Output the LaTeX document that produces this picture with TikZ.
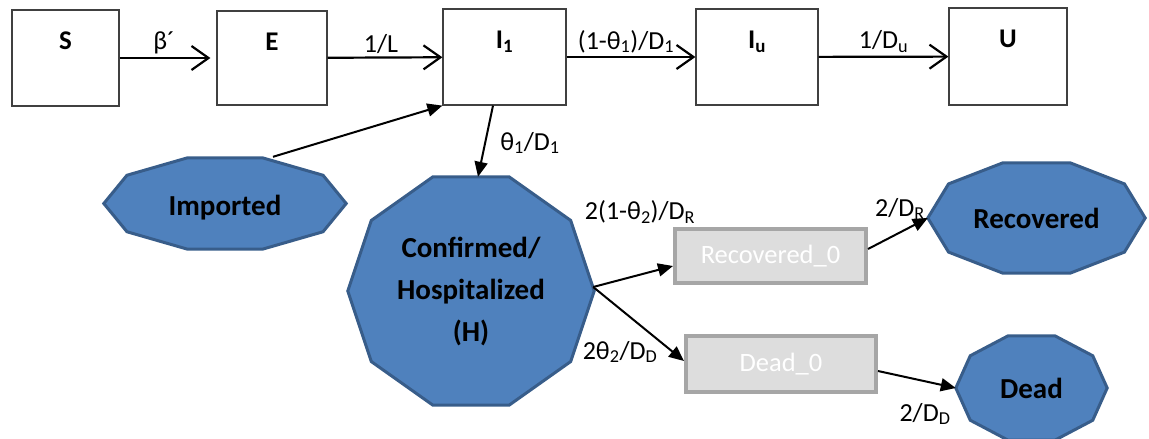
\documentclass[tikz,border=0pt]{standalone}
\usepackage{fontspec}
\setmainfont{Carlito}
\usetikzlibrary{arrows.meta,calc,backgrounds}
\definecolor{blfill}{HTML}{4F81BD}
\definecolor{blline}{HTML}{385D8A}
\definecolor{gyfill}{HTML}{DDDDDD}
\definecolor{gyline}{HTML}{A6A6A6}
\newcommand\decapath[1]{%
  \path[decastyle] let \p0=(#1.center), \p1=(#1.east), \p2=(#1.north),
    \n1={\x1-\x0}, \n2={\y2-\y0} in
    (\x0+\n1,\y0) -- (\x0+0.809*\n1,\y0+0.618*\n2) -- (\x0+0.309*\n1,\y0+\n2)
    -- (\x0-0.309*\n1,\y0+\n2) -- (\x0-0.809*\n1,\y0+0.618*\n2) -- (\x0-\n1,\y0)
    -- (\x0-0.809*\n1,\y0-0.618*\n2) -- (\x0-0.309*\n1,\y0-\n2)
    -- (\x0+0.309*\n1,\y0-\n2) -- (\x0+0.809*\n1,\y0-0.618*\n2) -- cycle;}
\tikzset{
  topbox/.style={draw=black!75, line width=1.2pt, fill=white, inner sep=0pt},
  toplbl/.style={anchor=base, yshift=-40pt, font=\bfseries\fontsize{27}{32}\selectfont},
  decanode/.style={inner sep=0pt, align=center, font=\bfseries\fontsize{29}{42}\selectfont},
  decalbl/.style={anchor=center, inner sep=0pt, font=\bfseries\fontsize{29}{42}\selectfont},
  decastyle/.style={fill=blfill, draw=blline, line width=3pt, line join=miter},
  graybox/.style={draw=gyline, fill=gyfill, line width=4pt, inner sep=0pt,
    text=white, font=\fontsize{26.5}{30}\selectfont},
  elbl/.style={font=\fontsize{26}{30}\selectfont, inner sep=3pt},
  topar/.style={line width=2.2pt, -{Straight Barb[length=17pt,width=24pt]}},
  lowar/.style={line width=2pt, -{Triangle[length=15pt,width=13pt]}}
}
\begin{document}
\begin{tikzpicture}[x=1pt,y=-1pt]
\useasboundingbox (0,0) rectangle (1149,439);
% top row
\node[topbox, minimum width=107pt, minimum height=96pt, label={[toplbl]north:S}] (S) at (65.5,58) {};
\node[topbox, minimum width=110pt, minimum height=94pt, label={[toplbl]north:E}] (E) at (272,58) {};
\node[topbox, minimum width=123pt, minimum height=96pt, label={[toplbl]north:I\textsubscript{1}}] (I1) at (504.5,57) {};
\node[topbox, minimum width=122pt, minimum height=96pt, label={[toplbl]north:I\textsubscript{u}}] (Iu) at (757,57) {};
\node[topbox, minimum width=118pt, minimum height=97pt, label={[toplbl]north:U}] (U) at (1008,56.5) {};
% decagon nodes
\node[decanode, minimum width=242pt, minimum height=91pt, label={[decalbl, yshift=-4pt]center:Imported}] (Imp) at (225,203.5) {};
\node[decanode, minimum width=246pt, minimum height=228pt] (H) at (471,291) {Confirmed/\\Hospitalized\\(H)};
\node[decanode, minimum width=217pt, minimum height=110pt] (Rec) at (1036.5,218) {Recovered};
\node[decanode, minimum width=151pt, minimum height=104pt] (Dead) at (1031.5,388) {Dead};
% gray boxes
\node[graybox, minimum width=191pt, minimum height=54pt] (Rec0) at (770.5,256) {Recovered\_0};
\node[graybox, minimum width=190pt, minimum height=56pt] (Dead0) at (781,364) {Dead\_0};
\begin{scope}[on background layer]
\decapath{Imp}
\decapath{H}
\decapath{Rec}
\decapath{Dead}
\end{scope}
% top arrows
\draw[topar, shorten >=6pt] (S) -- node[elbl, above, xshift=-4pt] (lb) {β´} (E);
\draw[topar] (E) -- node[elbl, above, xshift=-4pt] (ll) {1/L} (I1);
\draw[topar] (I1) -- node[elbl, above, xshift=-5pt] (lt) {(1-θ\textsubscript{1})/D\textsubscript{1}} (Iu);
\draw[topar] (Iu) -- node[elbl, above] (lu) {1/D\textsubscript{u}} (U);
% lower arrows
\coordinate (hx) at ($(H.east)+(-1,-4)$);
\draw[lowar] ($(I1.south)+(-11.5,0)$) -- ($(H.north)+(7,0)$);
\draw[lowar] ($(Imp.north)+(48,-1)$) -- (I1.south west);
\draw[lowar] (hx) -- ($(Rec0.west)+(0,10)$);
\draw[lowar] (hx) -- ($(Dead0.west)+(0,-3)$);
\draw[lowar] ($(Rec0.east)+(0,-7)$) -- (Rec.west);
\draw[lowar] ($(Dead0.east)+(0,7)$) -- (Dead.west);
% free labels
\node[elbl] (l1) at (530,143) {θ\textsubscript{1}/D\textsubscript{1}};
\node[elbl] (l2) at (640,212) {2(1-θ\textsubscript{2})/D\textsubscript{R}};
\node[elbl] (l3) at (620,352) {2θ\textsubscript{2}/D\textsubscript{D}};
\node[elbl] (l4) at (900,209) {2/D\textsubscript{R}};
\node[elbl] (l5) at (925,414) {2/D\textsubscript{D}};
\end{tikzpicture}
\end{document}
